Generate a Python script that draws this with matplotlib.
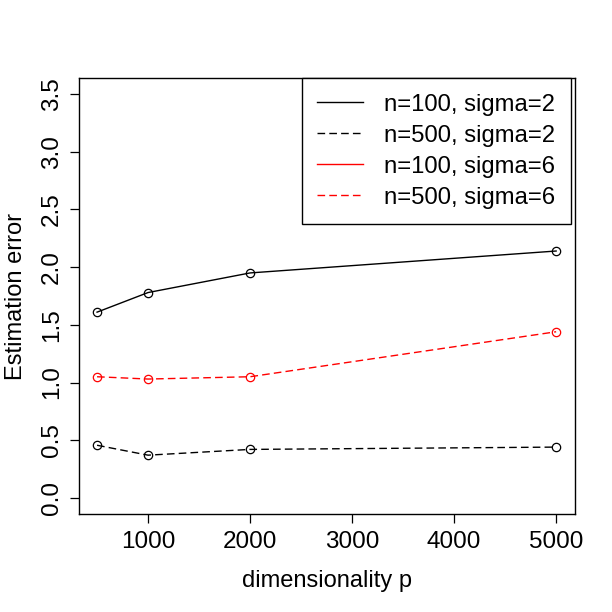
import matplotlib
matplotlib.use("Agg")
import matplotlib.pyplot as plt

plt.rcParams.update({
    "font.family": "Liberation Sans",
    "figure.dpi": 100,
})

# dimensionality p and estimation errors per setting
p = [500, 1000, 2000, 5000]
err_n100_s2 = [1.61, 1.78, 1.95, 2.14]
err_n500_s2 = [0.456, 0.37, 0.42, 0.44]
err_n100_s6 = [3.69, 3.95, 4.25, 4.70]
err_n500_s6 = [1.05, 1.03, 1.05, 1.44]

labels = ["n=100, sigma=2", "n=500, sigma=2", "n=100, sigma=6", "n=500, sigma=6"]
yticks = [0.0, 0.5, 1.0, 1.5, 2.0, 2.5, 3.0, 3.5]
xticks = [1000, 2000, 3000, 4000, 5000]

W = 612
fig = plt.figure(figsize=(6.12, 6.12))
ax = fig.add_axes([78.7 / W, 1 - 514 / W, (574.5 - 78.7) / W, (514 - 78) / W])

dash = (5.5, 3)
mk = dict(marker="o", markersize=6, markerfacecolor="none", markeredgewidth=0.9)
l1, = ax.plot(p, err_n100_s2, color="black", lw=1.0, **mk)
l2, = ax.plot(p, err_n500_s2, color="black", lw=1.0, dashes=dash, **mk)
l3, = ax.plot(p, err_n100_s6, color="red", lw=1.0, **mk)
l4, = ax.plot(p, err_n500_s6, color="red", lw=1.0, dashes=dash, **mk)

ax.set_xlim(320, 5180)
ax.set_ylim(-0.14, 3.64)
ax.set_xticks(xticks)
ax.set_xticklabels([str(v) for v in xticks])
ax.set_yticks(yticks)
ax.set_yticklabels([f"{v:.1f}" for v in yticks], rotation=90, va="center")
ax.tick_params(axis="both", length=6.5, width=0.9, labelsize=17.5, direction="out")
ax.tick_params(axis="x", pad=6)
ax.tick_params(axis="y", pad=5)
for s in ax.spines.values():
    s.set_linewidth(1.0)

ax.set_xlabel("dimensionality p", fontsize=17, labelpad=12)
ax.set_ylabel("Estimation error", fontsize=17, labelpad=10)

leg = ax.legend([l1, l2, l3, l4], labels, loc="upper right",
                bbox_to_anchor=(571 / W, 1 - 78 / W), bbox_transform=fig.transFigure,
                fontsize=17.2, handlelength=1.9, handletextpad=0.9, labelspacing=0.38,
                borderpad=0.65, borderaxespad=0, fancybox=False, framealpha=1,
                edgecolor="black")
leg.get_frame().set_linewidth(1.0)
for h in leg.legend_handles:
    h.set_marker("")

fig.savefig("out.png", dpi=100)
